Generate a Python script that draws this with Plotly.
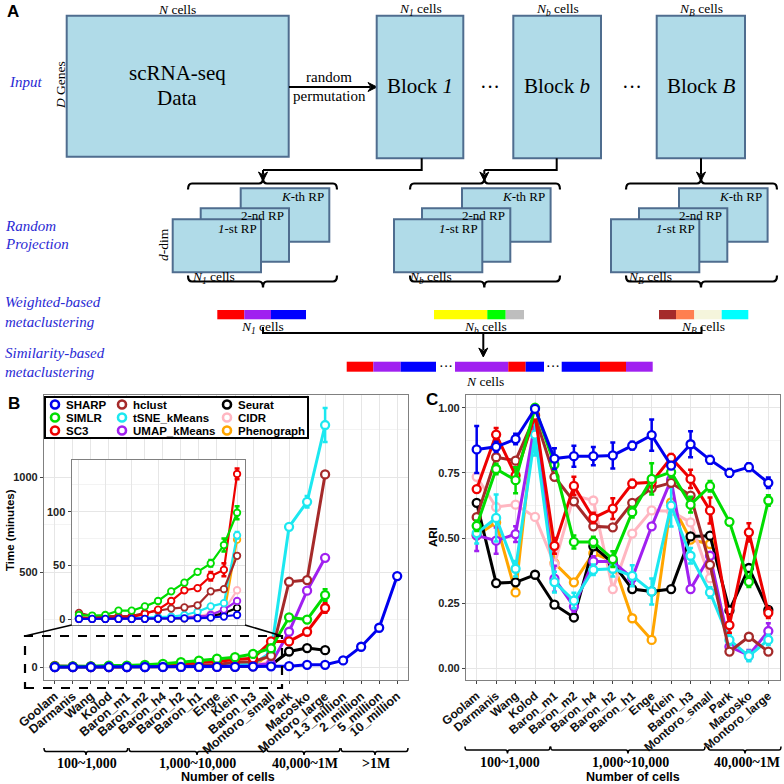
import math
import plotly.graph_objects as go

W = H = 784
SERIF = "Liberation Serif, Times New Roman, serif"
SANS = "Liberation Sans, Arial, sans-serif"
BLUE_TXT = "#2a2ad4"
BOX_FILL = "#b0dbe8"
BOX_LINE = "#4f6d8f"
GRID = "#e6e6e6"
GRID_MINOR = "#f3f3f3"
FRAME = "#808080"

# ---------------- data ----------------
b_cats = ["Goolam", "Darmanis", "Wang", "Kolod", "Baron_m1", "Baron_m2", "Baron_h4",
          "Baron_h2", "Baron_h1", "Enge", "Klein", "Baron_h3", "Montoro_small", "Park",
          "Macosko", "Montoro_large", "1.3_million", "2_million", "5_million", "10_million"]
c_cats = b_cats[:16]
inset_n = 13

methods = ["SHARP", "SIMLR", "SC3", "hclust", "tSNE_kMeans", "UMAP_kMeans", "Seurat", "CIDR", "Phenograph"]
colors = ["#0000ee", "#00dd00", "#ee0000", "#a52a2a", "#1ce8f0", "#a020f0", "#000000", "#ffb6c1", "#ffa500"]

# running time (minutes)
time_sharp = [0.3, 0.3, 0.3, 0.3, 0.3, 0.4, 0.5, 0.6, 0.8, 1.0, 1.5, 2.5, 4, 5, 12, 12, 35, 107, 207, 479]
time_simlr = [4, 3.5, 4, 8, 8, 12, 17, 26, 34, 44, 52, 69, 99, 262, 250, 379]
time_sc3 = [2, 1, 1, 1.5, 2, 5, 9, 17, 27, 29, 40, 46, 135, 135, 186, 311]
time_hclust = [6, 3, 3, 3, 3, 6, 8, 10, 11, 13, 26, 28, 59, 449, 458, 1014]
time_tsne = [1, 1, 1, 1, 1, 1.5, 2, 2.5, 4, 7, 12, 15, 78, 738, 870, 1274]
time_umap = [0.5, 0.5, 0.5, 0.5, 0.5, 0.6, 0.8, 1, 1.5, 2, 4, 9, 17, 186, 402, 575]
time_seurat = [0.5, 0.5, 0.5, 0.5, 0.5, 0.5, 0.6, 0.8, 1, 2, 3, 5.6, 10.6, 82, 100, 89]
time_cidr = [1, 1, 1, 1, 1, 1.2, 1.5, 2, 2.5, 3, 5, 8, 27]
time_pheno = [0.5, 0.5, 0.5, 0.5, 0.5, 0.5, 0.6, 0.8, 1, 1.5, 2, 4, 74]

time_err_simlr = [None] * 10 + [3, 6, 6, None, 15, 30]
time_err_sc3 = [None] * 10 + [4, 6, 5, None, 15, 25]
time_err_tsne = [None] * 12 + [3, None, 30, 90]

# adjusted rand index
ari_sharp = [0.84, 0.85, 0.88, 0.996, 0.805, 0.814, 0.814, 0.817, 0.855, 0.895, 0.778, 0.86, 0.80, 0.75, 0.772, 0.712]
ari_simlr = [0.547, 0.765, 0.722, 1.0, 0.782, 0.485, 0.485, 0.419, 0.599, 0.727, 0.753, 0.628, 0.699, 0.562, 0.332, 0.644]
ari_sc3 = [0.688, 0.897, 0.74, 0.97, 0.47, 0.70, 0.577, 0.613, 0.709, 0.714, 0.808, 0.727, 0.606, 0.166, 0.522, 0.213]
ari_hclust = [0.58, 0.81, 0.797, 0.968, 0.735, 0.641, 0.545, 0.541, 0.635, 0.692, 0.712, 0.663, 0.397, 0.064, 0.121, 0.064]
ari_tsne = [0.519, 0.577, 0.382, 0.897, 0.331, 0.26, 0.378, 0.382, 0.355, 0.295, 0.624, 0.432, 0.291, 0.109, 0.047, 0.109]
ari_umap = [0.51, 0.49, 0.515, 0.942, 0.344, 0.237, 0.41, 0.41, 0.346, 0.545, 0.724, 0.304, 0.432, 0.083, 0.05, 0.143]
ari_seurat = [0.635, 0.327, 0.33, 0.359, 0.244, 0.195, 0.468, 0.404, 0.304, 0.295, 0.304, 0.506, 0.509, 0.222, 0.385, 0.224]
ari_cidr = [0.735, 0.619, 0.628, 0.581, 0.40, 0.663, 0.644, 0.304, 0.517, 0.606, 0.603, 0.56, 0.346]
ari_pheno = [0.51, 0.56, 0.291, 0.974, 0.404, 0.33, 0.442, 0.41, 0.192, 0.109, 0.637, 0.494, 0.477]

ari_err_sharp = [0.09, 0.02, 0.02, 0.01, 0.04, 0.04, 0.035, 0.05, 0.015, 0.06, 0.01, 0.05, 0.015, 0.015, 0.015, 0.02]
ari_err_sc3 = [None, 0.025, 0.03, None, 0.03, 0.035, 0.02, 0.04, 0.015, 0.02, 0.015, 0.035, 0.05, 0.03, 0.035, 0.02]
ari_err_simlr = [0.02, 0.02, 0.05, None, 0.02, 0.025, 0.02, 0.03, 0.02, 0.06, 0.02, 0.03, 0.02, None, 0.02, 0.02]
ari_err_tsne = [0.04, 0.09, 0.03, 0.08, 0.04, 0.03, 0.02, 0.03, 0.04, 0.05, 0.08, 0.03, 0.02, 0.02, 0.02, 0.02]
ari_err_umap = [0.06, 0.05, 0.03, 0.03, 0.05, 0.02, 0.02, None, 0.02, None, 0.03, None, None, 0.02, 0.02, 0.03]

time_data = [time_sharp, time_simlr, time_sc3, time_hclust, time_tsne, time_umap, time_seurat, time_cidr, time_pheno]
time_errs = [None, time_err_simlr, time_err_sc3, None, time_err_tsne, None, None, None, None]
ari_data = [ari_sharp, ari_simlr, ari_sc3, ari_hclust, ari_tsne, ari_umap, ari_seurat, ari_cidr, ari_pheno]
ari_errs = [ari_err_sharp, ari_err_simlr, ari_err_sc3, None, ari_err_tsne, ari_err_umap, None, None, None]

groups_b = ["100~1,000", "1,000~10,000", "40,000~1M", ">1M"]
groups_c = ["100~1,000", "1,000~10,000", "40,000~1M"]


def px(x):
    return x / W


def py(y):
    return 1 - y / H


fig = go.Figure()


def add_series(xs, ys, err, color, name, xa, ya, lw, ms, mlw):
    kw = {}
    if err is not None:
        kw["error_y"] = dict(type="data", array=err[:len(ys)], color=color, thickness=2.5, width=2.5)
    fig.add_trace(go.Scatter(
        x=xs[:len(ys)], y=ys, name=name, mode="lines+markers", xaxis=xa, yaxis=ya,
        line=dict(color=color, width=lw),
        marker=dict(symbol="circle", size=ms, color="white", line=dict(color=color, width=mlw)),
        showlegend=False, **kw))


# draw SHARP last so that it sits on top
for i in reversed(range(len(methods))):
    add_series(b_cats, time_data[i], time_errs[i], colors[i], methods[i], "x", "y", 3, 8, 2.3)
for i in reversed(range(len(methods))):
    add_series(b_cats, time_data[i][:inset_n], time_errs[i][:inset_n] if time_errs[i] else None,
               colors[i], methods[i], "x2", "y2", 2.2, 6.5, 1.8)
for i in reversed(range(len(methods))):
    add_series(c_cats, ari_data[i], ari_errs[i], colors[i], methods[i], "x3", "y3", 3, 8, 2.3)

tick_font = dict(family=SANS, size=11, color="#222", weight="bold")
cat_font = dict(family=SANS, size=12.5, color="#111", weight="bold")

common_x = dict(type="category", showgrid=True, gridcolor=GRID, gridwidth=1, showline=True, mirror=True,
                linecolor=FRAME, linewidth=1.3, ticks="outside", ticklen=3, tickcolor="#444",
                zeroline=False, automargin=False)
common_y = dict(showgrid=True, gridcolor=GRID, gridwidth=1, showline=True, mirror=True,
                linecolor=FRAME, linewidth=1.3, ticks="outside", ticklen=3, tickcolor="#444",
                zeroline=False, automargin=False, tickfont=tick_font)

fig.update_layout(
    xaxis=dict(common_x, domain=[px(44), px(408)], categoryorder="array", categoryarray=b_cats,
               range=[-0.6, len(b_cats) - 0.4], tickangle=-40, tickfont=cat_font, anchor="y"),
    yaxis=dict(common_y, domain=[py(680), py(395)], range=[-68, 1432], tick0=0, dtick=500,
               minor=dict(dtick=250, showgrid=True, gridcolor=GRID_MINOR), anchor="x"),
    xaxis2=dict(common_x, domain=[px(71.7), px(245)], categoryorder="array", categoryarray=b_cats[:inset_n],
                range=[-0.55, inset_n - 0.4], showticklabels=False, ticks="", anchor="y2"),
    yaxis2=dict(common_y, domain=[py(625), py(460)], range=[-5.3, 148], tick0=0, dtick=50,
                minor=dict(dtick=25, showgrid=True, gridcolor=GRID_MINOR), anchor="x2"),
    xaxis3=dict(common_x, domain=[px(466), px(780)], categoryorder="array", categoryarray=c_cats,
                range=[-0.55, len(c_cats) - 0.4], tickangle=-40, tickfont=dict(cat_font, size=12), anchor="y3"),
    yaxis3=dict(common_y, domain=[py(680), py(395)], range=[-0.045, 1.049], tickvals=[0, 0.25, 0.5, 0.75, 1.0],
                ticktext=["0.00", "0.25", "0.50", "0.75", "1.00"],
                minor=dict(tickvals=[0.125, 0.375, 0.625, 0.875], showgrid=True, gridcolor=GRID_MINOR), anchor="x3"),
)

shapes = []
annos = []


def rect(x0, y0, x1, y1, fill=BOX_FILL, line=BOX_LINE, lw=2, dash=None):
    shapes.append(dict(type="rect", xref="paper", yref="paper", x0=px(x0), x1=px(x1), y0=py(y1), y1=py(y0),
                       fillcolor=fill, line=dict(color=line, width=lw, dash=dash), layer="above"))


def path(cmds, color="black", width=2, dash=None, fill=None, close=False):
    parts = []
    for c, pts in cmds:
        parts.append(c + " ".join(f"{px(x):.5f},{py(y):.5f}" for x, y in pts))
    if close:
        parts.append("Z")
    d = dict(type="path", path=" ".join(parts), xref="paper", yref="paper",
             line=dict(color=color, width=width, dash=dash), layer="above")
    if fill:
        d["fillcolor"] = fill
    shapes.append(d)


def poly(pts, **kw):
    path([("M", [pts[0]])] + [("L", [p]) for p in pts[1:]], **kw)


def brace(x0, x1, xc, y, d, r=4, width=2.2):
    # d>0: ends curl downward, center points up; d<0 the reverse
    path([("M", [(x0, y + d)]), ("Q", [(x0, y), (x0 + r, y)]), ("L", [(xc - r, y)]),
          ("Q", [(xc, y), (xc, y - d)]), ("Q", [(xc, y), (xc + r, y)]), ("L", [(x1 - r, y)]),
          ("Q", [(x1, y), (x1, y + d)])], width=width)


def text(x, y, s, size=13.5, color="black", family=SERIF, angle=0, xanchor="center", yanchor="middle", weight=None):
    f = dict(size=size, color=color, family=family)
    if weight:
        f["weight"] = weight
    annos.append(dict(x=px(x), y=py(y), xref="paper", yref="paper", text=s, showarrow=False, font=f,
                      textangle=angle, xanchor=xanchor, yanchor=yanchor))


def arrow(x0, y0, x1, y1, head=9, half=4.5):
    L = math.hypot(x1 - x0, y1 - y0)
    ux, uy = (x1 - x0) / L, (y1 - y0) / L
    bx, by = x1 - ux * head, y1 - uy * head
    poly([(x0, y0), (bx + ux * 2, by + uy * 2)], width=2)
    path([("M", [(x1, y1)]), ("L", [(bx - uy * half, by + ux * half)]), ("L", [(bx + ux * 3, by + uy * 3)]),
          ("L", [(bx + uy * half, by - ux * half)])], width=1, fill="black", close=True)


# ---------------- panel A ----------------
text(13, 12, "A", size=17, family=SANS, weight="bold")
text(7, 82, "<i>Input</i>", size=15, color=BLUE_TXT, xanchor="left")
text(3, 226, "<i>Random</i>", size=15, color=BLUE_TXT, xanchor="left")
text(3, 244, "<i>Projection</i>", size=15, color=BLUE_TXT, xanchor="left")
text(3, 302, "<i>Weighted-based</i>", size=15, color=BLUE_TXT, xanchor="left")
text(3, 322, "<i>metaclustering</i>", size=15, color=BLUE_TXT, xanchor="left")
text(3, 353, "<i>Similarity-based</i>", size=15, color=BLUE_TXT, xanchor="left")
text(3, 372, "<i>metaclustering</i>", size=15, color=BLUE_TXT, xanchor="left")

rect(66.7, 15.7, 288.7, 156.7)
text(177, 9, "<i>N</i> cells")
text(177, 73, "scRNA-seq", size=21)
text(177, 98, "Data", size=21)
text(60, 85, "<i>D</i> Genes", angle=-90)
arrow(289, 87, 377, 87)
text(329, 77, "random", size=15)
text(329, 96, "permutation", size=15)

blocks = [(376.7, 463.3, "Block <i>1</i>", "<i>N<sub>1</sub></i> cells"),
          (513.3, 601, "Block <i>b</i>", "<i>N<sub>b</sub></i> cells"),
          (656.7, 745, "Block <i>B</i>", "<i>N<sub>B</sub></i> cells")]
for x0, x1, lab, top in blocks:
    rect(x0, 15.7, x1, 158.3)
    text((x0 + x1) / 2, 86, lab, size=21)
    text((x0 + x1) / 2, 9, top)
text(490, 87, "···", size=20)
text(632, 87, "···", size=20)

# connectors from blocks to projection groups
poly([(421.7, 158.3), (421.7, 170), (263, 170)])
arrow(263, 170, 263, 181)
poly([(556.7, 158.3), (556.7, 170), (484.3, 170)])
arrow(484.3, 170, 484.3, 181)
arrow(701, 158.3, 701, 181)

proj = [(188, 337, 263, 172.7, "<i>N<sub>1</sub></i> cells", 213),
        (410, 560, 484.3, 394, "<i>N<sub>b</sub></i> cells", 430),
        (626, 777, 701, 611, "<i>N<sub>B</sub></i> cells", 650)]
for bx0, bx1, bxc, rx, ntext, nx in proj:
    brace(bx0, bx1, bxc, 183.5, 6)
    rect(rx + 68, 188.3, rx + 156.6, 241.7)
    rect(rx + 28, 208.3, rx + 116.3, 261.7)
    rect(rx, 219.3, rx + 88.3, 272.3)
    text(rx + 153, 196, "<i>K</i>-th RP", size=13, xanchor="right")
    text(rx + 113, 215, "2-nd RP", size=13, xanchor="right")
    text(rx + 86, 228, "<i>1</i>-st RP", size=13, xanchor="right")
    text(nx, 277, ntext)
    brace(bx0, bx1, bxc, 281.5, -6)
text(163, 245, "<i>d</i>-dim", angle=-90)

# weighted-based metaclustering bars
wbars = [
    [(217.3, 244.3, "#ff0000"), (244.3, 271, "#a020f0"), (271, 306, "#0000ff")],
    [(434, 487.3, "#ffff00"), (487.3, 505.7, "#00ff00"), (505.7, 524, "#bebebe")],
    [(659, 676, "#a52a2a"), (676, 694.3, "#ff7f50"), (694.3, 721.7, "#f5f5dc"), (721.7, 748.3, "#00ffff")],
]
for segs in wbars:
    for a, b, c in segs:
        rect(a, 310, b, 319.3, fill=c, line=c, lw=0)
text(262, 327, "<i>N<sub>1</sub></i> cells")
text(485, 327, "<i>N<sub>b</sub></i> cells")
text(703, 327, "<i>N<sub>B</sub></i> cells")
poly([(263, 327), (263, 333), (701.5, 333), (701.5, 327)])
arrow(483.3, 333, 483.3, 357)

fbar = [(346.7, 373.3, "#ff0000"), (373.3, 400.7, "#a020f0"), (400.7, 436, "#0000ff"),
        (455, 508.3, "#a020f0"), (508.3, 525.7, "#ff0000"), (525.7, 544, "#0000ff"),
        (561.7, 600, "#0000ff"), (600, 626, "#ff0000"), (626, 652.7, "#a020f0")]
for a, b, c in fbar:
    rect(a, 361.7, b, 371.7, fill=c, line=c, lw=0)
text(445.5, 367, "···", size=14)
text(553, 367, "···", size=14)
text(485, 381, "<i>N</i> cells")

# ---------------- panel B / C decorations ----------------
text(14, 403, "B", size=17, family=SANS, weight="bold")
text(432, 399, "C", size=17, family=SANS, weight="bold")
text(10, 530, "Time (minutes)", size=11.5, family=SANS, angle=-90, weight="bold")
text(433, 537, "ARI", size=11.5, family=SANS, angle=-90, weight="bold")

# zoom box and connectors to the inset
rect(25, 636, 282, 688, fill="rgba(0,0,0,0)", line="black", lw=2.2, dash="dash")
poly([(25, 636), (71.7, 625)], width=1.6)
poly([(245, 625), (282, 636)], width=1.6)

# legend (manual, three columns)
rect(45, 397, 308, 438, fill="white", line="black", lw=2)
col_x = [55, 122, 227]
row_y = [404.5, 417.5, 430.5]
for i, (m, c) in enumerate(zip(methods, colors)):
    cx, cy = col_x[i // 3], row_y[i % 3]
    shapes.append(dict(type="circle", xref="paper", yref="paper", x0=px(cx - 4), x1=px(cx + 4),
                       y0=py(cy + 4), y1=py(cy - 4), fillcolor="white", line=dict(color=c, width=2.6), layer="above"))
    text(cx + 9, cy, m, size=11.5, family=SANS, xanchor="left", weight="bold")

# cell-number group brackets
b_br = [(44, 127.7, 86), (129, 265.7, 197), (266.7, 340, 304), (341, 408, 375)]
for (a, b, c), g in zip(b_br, groups_b):
    brace(a, b, c, 751.5, -3.5, r=2, width=1.5)
    text(c + 1, 763, g, size=14, weight="bold")
text(228, 777, "Number of cells", size=12.5, family=SANS, weight="bold")

c_br = [(465, 550, 507.5), (550.7, 705, 628), (708.3, 781, 745)]
for (a, b, c), g in zip(c_br, groups_c):
    brace(a, b, c, 750, -3.5, r=2, width=1.5)
    text(c + 2, 762, g, size=14, weight="bold")
text(633, 777, "Number of cells", size=12.5, family=SANS, weight="bold")

fig.update_layout(
    width=W, height=H, margin=dict(l=0, r=0, t=0, b=0), template="none",
    paper_bgcolor="white", plot_bgcolor="white", showlegend=False,
    shapes=shapes, annotations=annos,
)

# the page's default 8px body margin would push the 784px figure off the window
fig.write_html("out.html", config={"displayModeBar": False},
               post_script="document.body.style.margin='0px';")
